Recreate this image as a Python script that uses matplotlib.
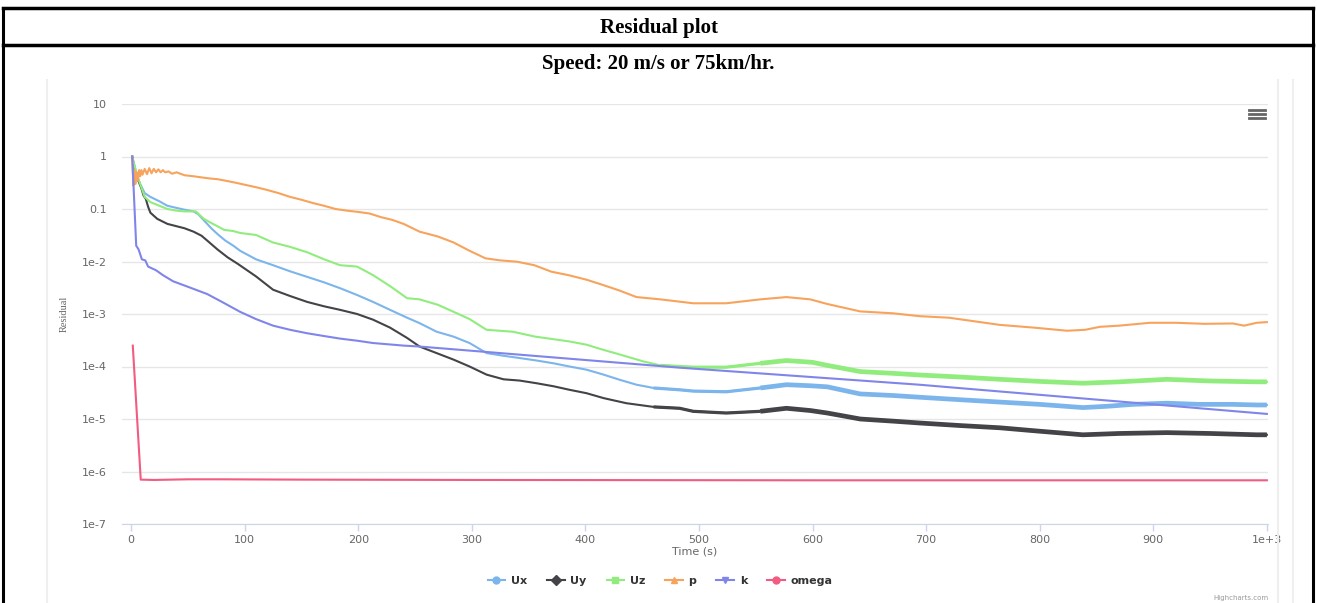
import numpy as np
import matplotlib
matplotlib.use("Agg")
import matplotlib.pyplot as plt
from matplotlib.lines import Line2D
from matplotlib.ticker import FixedLocator, NullLocator

# residual histories
ux_t = [1, 5, 8, 12, 17, 25, 32, 40, 47, 55, 59, 65, 71, 77, 83, 90, 96, 110, 125, 140,
        155, 170, 184, 199, 213, 228, 243, 254, 269, 284, 298, 313, 328, 342, 357, 372,
        386, 401, 416, 430, 445, 460, 483, 495, 524, 554, 577, 598, 613, 642, 671, 694,
        720, 765, 800, 838, 860, 882, 912, 940, 970, 991, 1000]
ux = [1, 0.45, 0.3, 0.2, 0.17, 0.14, 0.115, 0.105, 0.097, 0.09, 0.08, 0.058, 0.042, 0.032,
      0.025, 0.02, 0.016, 0.011, 0.0085, 0.0065, 0.0051, 0.004, 0.0031, 0.0023, 0.0017,
      0.0012, 8.5e-4, 6.7e-4, 4.6e-4, 3.7e-4, 2.8e-4, 1.8e-4, 1.6e-4, 1.45e-4, 1.3e-4,
      1.15e-4, 1.0e-4, 8.7e-5, 7e-5, 5.6e-5, 4.5e-5, 3.9e-5, 3.6e-5, 3.4e-5, 3.3e-5,
      3.9e-5, 4.5e-5, 4.3e-5, 4.1e-5, 3e-5, 2.8e-5, 2.6e-5, 2.4e-5, 2.1e-5, 1.9e-5,
      1.65e-5, 1.75e-5, 1.9e-5, 2e-5, 1.9e-5, 1.9e-5, 1.85e-5, 1.85e-5]

uy_t = [1, 4, 6.5, 9, 11, 13, 15, 17, 23, 32, 40, 47, 55, 62, 69, 76, 85, 94, 110, 125,
        140, 155, 170, 184, 199, 213, 228, 243, 254, 269, 284, 298, 313, 328, 342, 357,
        372, 386, 401, 416, 436, 460, 483, 495, 524, 554, 577, 598, 613, 642, 671, 694,
        730, 765, 794, 838, 870, 912, 950, 991, 1000]
uy = [1, 0.4, 0.34, 0.25, 0.18, 0.155, 0.11, 0.085, 0.065, 0.052, 0.047, 0.043, 0.037,
      0.031, 0.023, 0.017, 0.012, 0.009, 0.0052, 0.0029, 0.0022, 0.0017, 0.0014, 0.0012,
      0.001, 7.8e-4, 5.5e-4, 3.5e-4, 2.4e-4, 1.8e-4, 1.35e-4, 1e-4, 7e-5, 5.7e-5, 5.4e-5,
      4.8e-5, 4.2e-5, 3.6e-5, 3.1e-5, 2.5e-5, 2e-5, 1.7e-5, 1.6e-5, 1.4e-5, 1.3e-5,
      1.4e-5, 1.6e-5, 1.45e-5, 1.3e-5, 1e-5, 9.1e-6, 8.4e-6, 7.5e-6, 6.8e-6, 6e-6, 5e-6,
      5.3e-6, 5.5e-6, 5.3e-6, 5e-6, 5e-6]

uz_t = [1, 5, 8, 12, 17, 25, 32, 40, 47, 57, 64, 70, 76, 82, 90, 96, 110, 125, 140, 155,
        170, 184, 199, 213, 228, 243, 254, 270, 284, 298, 313, 336, 356, 386, 401, 415,
        430, 451, 466, 483, 495, 524, 554, 577, 600, 613, 642, 671, 694, 730, 765, 800,
        838, 870, 912, 950, 991, 1000]
uz = [1, 0.45, 0.3, 0.17, 0.135, 0.115, 0.1, 0.093, 0.09, 0.09, 0.065, 0.055, 0.047, 0.04,
      0.038, 0.035, 0.032, 0.023, 0.019, 0.015, 0.011, 0.0085, 0.008, 0.0055, 0.0034,
      0.002, 0.0019, 0.0015, 0.0011, 8e-4, 5e-4, 4.6e-4, 3.7e-4, 3e-4, 2.6e-4, 2.1e-4,
      1.7e-4, 1.25e-4, 1.05e-4, 1e-4, 9.7e-5, 9.7e-5, 1.15e-4, 1.3e-4, 1.2e-4, 1.05e-4,
      8e-5, 7.4e-5, 6.9e-5, 6.3e-5, 5.7e-5, 5.2e-5, 4.8e-5, 5.1e-5, 5.7e-5, 5.3e-5,
      5.1e-5, 5.1e-5]

p_t = [1, 2, 3, 4, 5, 6, 7, 8, 9, 10, 12, 14, 16, 18, 20, 22, 24, 26, 28, 30, 33, 36, 40,
       47, 55, 62, 70, 76, 85, 94, 100, 110, 120, 130, 140, 150, 160, 170, 180, 190, 200,
       210, 220, 230, 240, 254, 270, 284, 298, 312, 325, 340, 355, 370, 385, 401, 415,
       430, 445, 466, 495, 524, 554, 577, 598, 613, 642, 671, 694, 720, 765, 795, 824,
       840, 853, 870, 897, 920, 945, 970, 980, 991, 1000]
p = [1, 0.28, 0.55, 0.3, 0.5, 0.35, 0.55, 0.42, 0.55, 0.45, 0.58, 0.46, 0.6, 0.48, 0.58,
     0.5, 0.57, 0.5, 0.55, 0.5, 0.52, 0.47, 0.5, 0.44, 0.42, 0.4, 0.38, 0.37, 0.34, 0.31,
     0.29, 0.26, 0.23, 0.2, 0.17, 0.15, 0.13, 0.115, 0.1, 0.093, 0.088, 0.082, 0.07,
     0.062, 0.052, 0.037, 0.03, 0.023, 0.016, 0.0115, 0.0105, 0.0099, 0.0085, 0.0064,
     0.0055, 0.0045, 0.0036, 0.0028, 0.0021, 0.0019, 0.0016, 0.0016, 0.0019, 0.0021,
     0.0019, 0.00155, 0.00112, 0.00103, 0.00091, 0.00085, 0.00062, 0.00055, 0.00048,
     0.0005, 0.00057, 0.0006, 0.00068, 0.00068, 0.00065, 0.00066, 0.0006, 0.00068, 0.0007]

k_t = [1, 4.5, 6.6, 9.5, 12.5, 15, 22, 28, 37, 50, 67, 80, 96, 110, 125, 140, 155, 170,
       184, 199, 213, 240, 254, 483, 694, 1000]
k = [1, 0.02, 0.017, 0.011, 0.0105, 0.008, 0.0068, 0.0055, 0.0042, 0.0033, 0.0024, 0.0017,
     0.0011, 8e-4, 6e-4, 5e-4, 4.3e-4, 3.8e-4, 3.4e-4, 3.1e-4, 2.8e-4, 2.5e-4, 2.4e-4,
     9.5e-5, 4.5e-5, 1.25e-5]

omega_t = [1.5, 8.5, 20, 50, 80, 150, 300, 600, 1000]
omega = [2.5e-4, 7e-7, 6.9e-7, 7.1e-7, 7.1e-7, 7e-7, 6.9e-7, 6.8e-7, 6.8e-7]

y_ticks = [1e-7, 1e-6, 1e-5, 1e-4, 1e-3, 1e-2, 0.1, 1, 10]
y_labels = ["1e-7", "1e-6", "1e-5", "1e-4", "1e-3", "1e-2", "0.1", "1", "10"]
x_ticks = [0, 100, 200, 300, 400, 500, 600, 700, 800, 900, 1000]
x_labels = ["0", "100", "200", "300", "400", "500", "600", "700", "800", "900", "1e+3"]

series = [
    ("Ux", ux_t, ux, "#7cb5ec", "o"),
    ("Uy", uy_t, uy, "#434348", "D"),
    ("Uz", uz_t, uz, "#90ed7d", "s"),
    ("p", p_t, p, "#f7a35c", "^"),
    ("k", k_t, k, "#8085e9", "v"),
    ("omega", omega_t, omega, "#f15c80", "o"),
]
noisy = ["Ux", "Uy", "Uz"]

W, H = 1317, 603
fig = plt.figure(figsize=(W / 100, H / 100), dpi=100)

def fx(px):
    return px / W

def fy(py):
    return 1 - py / H

# table frame around the screenshot
for xs, ys, lw in [([3, 3], [8, 603], 2.2), ([1313, 1313], [8, 603], 2.2),
                   ([3, 1313], [8, 8], 2.5), ([3, 1313], [45, 45], 2.5)]:
    fig.add_artist(Line2D([fx(x) for x in xs], [fy(y) for y in ys], color="black", lw=lw))
for x in [47, 1278, 1293]:
    fig.add_artist(Line2D([fx(x), fx(x)], [fy(80), fy(603)], color="#efefef", lw=1.5))

fig.text(0.5, fy(28), "Residual plot", ha="center", va="center",
         family="Liberation Serif", weight="bold", fontsize=15)
fig.text(0.5, fy(64), "Speed: 20 m/s or 75km/hr.", ha="center", va="center",
         family="Liberation Serif", weight="bold", fontsize=15)

ax = fig.add_axes([fx(122), fy(524), fx(1268) - fx(122), fy(104) - fy(524)])
ax.set_yscale("log")
ax.set_ylim(1e-7, 10)
ax.set_xlim(-8, 1001)

for name, t, v, c, m in series:
    ax.plot(t, v, color=c, lw=1.5, zorder=3)
    if name in noisy:
        # the later iterations are drawn as a thick, jittery band
        t_arr = np.array(t)
        v_arr = np.array(v)
        mask = t_arr >= 540
        ax.plot(t_arr[mask], v_arr[mask], color=c, lw=3.4, zorder=3,
                solid_capstyle="butt")
        mask = (t_arr >= 460) & (t_arr <= 560)
        ax.plot(t_arr[mask], v_arr[mask], color=c, lw=2.3, zorder=3,
                solid_capstyle="butt")

ax.yaxis.set_major_locator(FixedLocator(y_ticks))
ax.yaxis.set_minor_locator(NullLocator())
ax.set_yticklabels(y_labels)
ax.set_xticks(x_ticks)
ax.set_xticklabels(x_labels)
ax.grid(axis="y", color="#e6e6e6", lw=1)
ax.set_axisbelow(True)
for s in ["top", "right", "left"]:
    ax.spines[s].set_visible(False)
ax.spines["bottom"].set_color("#ccd6eb")
ax.tick_params(axis="y", length=0, pad=11, labelsize=8, labelcolor="#666666")
ax.tick_params(axis="x", length=5, width=1, color="#ccd6eb", pad=3, labelsize=8,
               labelcolor="#666666")

fig.text(0.5 * (fx(122) + fx(1268)), fy(551), "Time (s)", ha="center", va="center",
         fontsize=8, color="#666666")
fig.text(fx(64), fy(314), "Residual", ha="center", va="center", rotation=90,
         fontsize=7.5, color="#666666", family="Liberation Serif")

handles = [Line2D([], [], color=c, marker=m, markersize=5, lw=1.5, label=name)
           for name, t, v, c, m in series]
leg = fig.legend(handles=handles, loc="center", bbox_to_anchor=(fx(660), fy(581)),
                 ncol=6, frameon=False, handlelength=1.6, columnspacing=1.8,
                 handletextpad=0.5, prop={"weight": "bold", "size": 8})
for txt in leg.get_texts():
    txt.set_color("#333333")

# hamburger menu icon
for y in [110, 114, 118]:
    fig.add_artist(Line2D([fx(1249), fx(1265)], [fy(y), fy(y)], color="#666666", lw=2))

fig.text(fx(1268), fy(598), "Highcharts.com", ha="right", va="center", fontsize=5,
         color="#999999")

fig.savefig("out.png", dpi=100)
